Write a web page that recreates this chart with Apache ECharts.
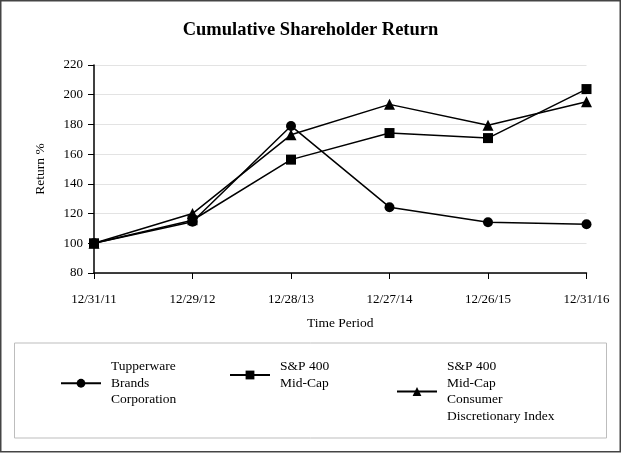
<!DOCTYPE html>
<html>
<head>
<meta charset="utf-8">
<script src="https://cdn.jsdelivr.net/npm/echarts@6/dist/echarts.min.js"></script>
<style>
html,body{margin:0;padding:0;background:#fff;}
#chart{width:621px;height:453px;}
</style>
</head>
<body>
<div id="chart"></div>
<script>
const categories = ['12/31/11', '12/29/12', '12/28/13', '12/27/14', '12/26/15', '12/31/16'];
const tupperware = [100, 114.5, 179, 124.3, 114.2, 112.8];
const midCap = [100, 115.5, 156.3, 174.2, 170.8, 203.8];
const consumerDisc = [100, 120, 173, 193.5, 179.4, 195.3];
const seriesNames = ['Tupperware Brands Corporation', 'S&P 400 Mid-Cap', 'S&P 400 Mid-Cap Consumer Discretionary Index'];
const legendLabels = ['Tupperware\nBrands\nCorporation', 'S&P 400\nMid-Cap', 'S&P 400\nMid-Cap\nConsumer\nDiscretionary Index'];
const symbols = ['circle', 'rect', 'triangle'];
const yTicks = {min: 80, max: 220, interval: 20};

const FONT = 'Liberation Serif';
const chart = echarts.init(document.getElementById('chart'), null, {renderer: 'canvas'});
const allData = [tupperware, midCap, consumerDisc];
const legendLeft = [60, 229, 396];

const legends = seriesNames.map((n, i) => ({
  data: [n],
  left: legendLeft[i],
  top: 358.5,
  orient: 'horizontal',
  padding: 0,
  itemWidth: 40,
  itemHeight: 11,
  selectedMode: false,
  formatter: () => legendLabels[i],
  textStyle: {fontFamily: FONT, fontSize: 13.5, color: '#000', lineHeight: 16.5, padding: [0, 0, 0, 5]}
}));

const option = {
  backgroundColor: '#fff',
  animation: false,
  title: {
    text: 'Cumulative Shareholder Return',
    left: 'center',
    top: 16,
    textStyle: {fontFamily: FONT, fontSize: 18.5, fontWeight: 'bold', color: '#000'}
  },
  legend: legends,
  grid: {left: 94, right: 34.5, top: 65, bottom: 180, containLabel: false},
  xAxis: {
    type: 'category',
    data: categories,
    boundaryGap: false,
    name: 'Time Period',
    nameLocation: 'middle',
    nameGap: 43,
    nameTextStyle: {fontFamily: FONT, fontSize: 13.5, color: '#000'},
    axisLine: {lineStyle: {color: '#000', width: 1.5}},
    axisTick: {show: true, length: 6, lineStyle: {color: '#000', width: 1}},
    axisLabel: {fontFamily: FONT, fontSize: 13, color: '#000', margin: 20}
  },
  yAxis: {
    type: 'value',
    min: yTicks.min,
    max: yTicks.max,
    interval: yTicks.interval,
    name: 'Return %',
    nameLocation: 'middle',
    nameGap: 47,
    nameRotate: 90,
    nameTextStyle: {fontFamily: FONT, fontSize: 13.5, color: '#000'},
    axisLine: {show: true, lineStyle: {color: '#000', width: 1.5}},
    axisTick: {show: true, length: 6, lineStyle: {color: '#000', width: 1}},
    axisLabel: {fontFamily: FONT, fontSize: 13, color: '#000', margin: 11},
    splitLine: {show: true, lineStyle: {color: '#e3e3e3', width: 1}}
  },
  series: seriesNames.map((n, i) => ({
    name: n,
    type: 'line',
    data: allData[i],
    symbol: symbols[i],
    symbolSize: i === 2 ? 11 : 10,
    showAllSymbol: true,
    color: '#000',
    lineStyle: {color: '#000', width: 1.5},
    itemStyle: {color: '#000'},
    z: 3 - i
  })),
  graphic: [
    {type: 'rect', shape: {x: 0.75, y: 0.75, width: 619.5, height: 451}, style: {fill: null, stroke: '#444', lineWidth: 1.5}, silent: true},
    {type: 'rect', shape: {x: 14.5, y: 343, width: 592, height: 95}, style: {fill: null, stroke: '#bdbdbd', lineWidth: 1}, silent: true}
  ]
};
chart.setOption(option);
</script>
</body>
</html>
